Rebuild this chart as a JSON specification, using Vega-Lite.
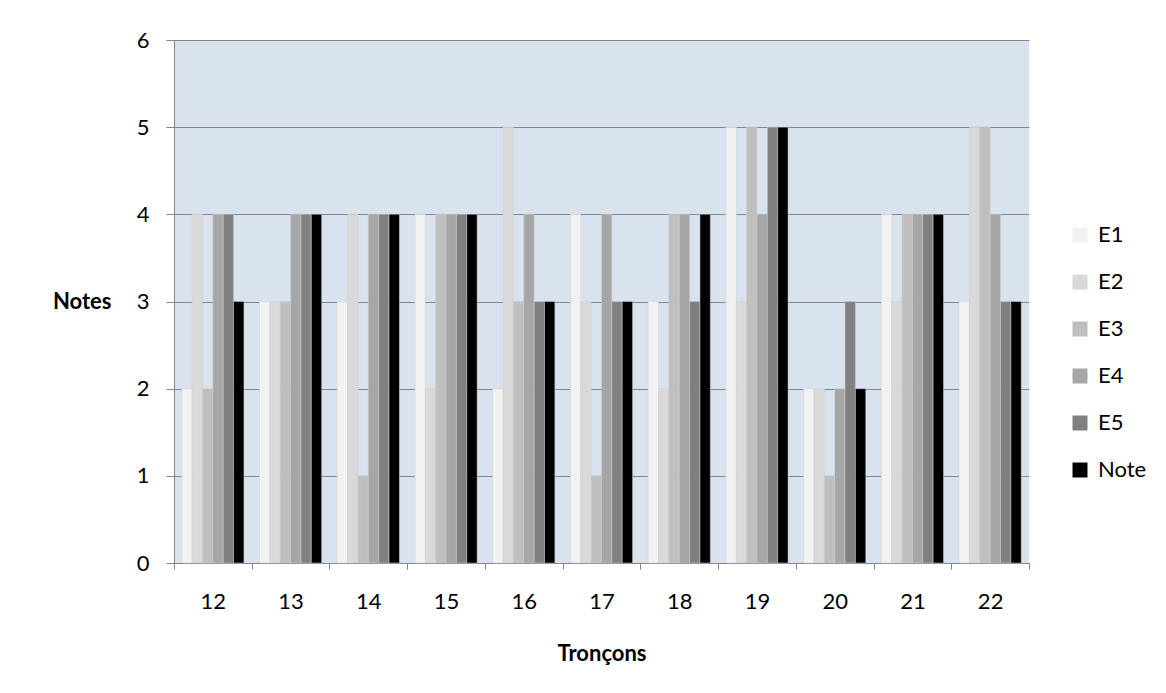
{
  "$schema": "https://vega.github.io/schema/vega-lite/v6.json",
  "autosize": {"type": "none"},
  "padding": {"left": 174, "top": 40, "right": 137, "bottom": 130},
  "width": 855,
  "height": 523,
  "background": "white",
  "config": {
    "font": "Lato",
    "view": {"fill": "#D8E3EF", "stroke": null},
    "axis": {"labelFont": "Lato", "titleFont": "Lato", "labelColor": "#000000", "titleColor": "#000000", "labelFontSize": 22, "titleFontSize": 22, "titleFontWeight": "bold", "domainColor": "#868686", "tickColor": "#868686", "gridColor": "#868686", "gridOpacity": 1}
  },
  "data": {"values": [
    {"troncon": "12", "serie": "E1", "valeur": 2}, {"troncon": "12", "serie": "E2", "valeur": 4}, {"troncon": "12", "serie": "E3", "valeur": 2}, {"troncon": "12", "serie": "E4", "valeur": 4}, {"troncon": "12", "serie": "E5", "valeur": 4}, {"troncon": "12", "serie": "Note", "valeur": 3},
    {"troncon": "13", "serie": "E1", "valeur": 3}, {"troncon": "13", "serie": "E2", "valeur": 3}, {"troncon": "13", "serie": "E3", "valeur": 3}, {"troncon": "13", "serie": "E4", "valeur": 4}, {"troncon": "13", "serie": "E5", "valeur": 4}, {"troncon": "13", "serie": "Note", "valeur": 4},
    {"troncon": "14", "serie": "E1", "valeur": 3}, {"troncon": "14", "serie": "E2", "valeur": 4}, {"troncon": "14", "serie": "E3", "valeur": 1}, {"troncon": "14", "serie": "E4", "valeur": 4}, {"troncon": "14", "serie": "E5", "valeur": 4}, {"troncon": "14", "serie": "Note", "valeur": 4},
    {"troncon": "15", "serie": "E1", "valeur": 4}, {"troncon": "15", "serie": "E2", "valeur": 2}, {"troncon": "15", "serie": "E3", "valeur": 4}, {"troncon": "15", "serie": "E4", "valeur": 4}, {"troncon": "15", "serie": "E5", "valeur": 4}, {"troncon": "15", "serie": "Note", "valeur": 4},
    {"troncon": "16", "serie": "E1", "valeur": 2}, {"troncon": "16", "serie": "E2", "valeur": 5}, {"troncon": "16", "serie": "E3", "valeur": 3}, {"troncon": "16", "serie": "E4", "valeur": 4}, {"troncon": "16", "serie": "E5", "valeur": 3}, {"troncon": "16", "serie": "Note", "valeur": 3},
    {"troncon": "17", "serie": "E1", "valeur": 4}, {"troncon": "17", "serie": "E2", "valeur": 3}, {"troncon": "17", "serie": "E3", "valeur": 1}, {"troncon": "17", "serie": "E4", "valeur": 4}, {"troncon": "17", "serie": "E5", "valeur": 3}, {"troncon": "17", "serie": "Note", "valeur": 3},
    {"troncon": "18", "serie": "E1", "valeur": 3}, {"troncon": "18", "serie": "E2", "valeur": 2}, {"troncon": "18", "serie": "E3", "valeur": 4}, {"troncon": "18", "serie": "E4", "valeur": 4}, {"troncon": "18", "serie": "E5", "valeur": 3}, {"troncon": "18", "serie": "Note", "valeur": 4},
    {"troncon": "19", "serie": "E1", "valeur": 5}, {"troncon": "19", "serie": "E2", "valeur": 3}, {"troncon": "19", "serie": "E3", "valeur": 5}, {"troncon": "19", "serie": "E4", "valeur": 4}, {"troncon": "19", "serie": "E5", "valeur": 5}, {"troncon": "19", "serie": "Note", "valeur": 5},
    {"troncon": "20", "serie": "E1", "valeur": 2}, {"troncon": "20", "serie": "E2", "valeur": 2}, {"troncon": "20", "serie": "E3", "valeur": 1}, {"troncon": "20", "serie": "E4", "valeur": 2}, {"troncon": "20", "serie": "E5", "valeur": 3}, {"troncon": "20", "serie": "Note", "valeur": 2},
    {"troncon": "21", "serie": "E1", "valeur": 4}, {"troncon": "21", "serie": "E2", "valeur": 3}, {"troncon": "21", "serie": "E3", "valeur": 4}, {"troncon": "21", "serie": "E4", "valeur": 4}, {"troncon": "21", "serie": "E5", "valeur": 4}, {"troncon": "21", "serie": "Note", "valeur": 4},
    {"troncon": "22", "serie": "E1", "valeur": 3}, {"troncon": "22", "serie": "E2", "valeur": 5}, {"troncon": "22", "serie": "E3", "valeur": 5}, {"troncon": "22", "serie": "E4", "valeur": 4}, {"troncon": "22", "serie": "E5", "valeur": 3}, {"troncon": "22", "serie": "Note", "valeur": 3}
  ]},
  "mark": {"type": "bar", "stroke": "#D0D0D0", "strokeWidth": 0.5},
  "encoding": {
    "x": {
      "field": "troncon", "type": "nominal", "title": "Tronçons",
      "scale": {"paddingInner": 0, "paddingOuter": 0},
      "axis": {"labelAngle": 0, "tickBand": "extent", "tickSize": 6, "labelPadding": 22, "titlePadding": 31, "grid": false, "domain": true}
    },
    "xOffset": {"field": "serie", "type": "nominal", "sort": ["E1", "E2", "E3", "E4", "E5", "Note"], "scale": {"paddingInner": 0, "paddingOuter": 0.75}},
    "y": {
      "field": "valeur", "type": "quantitative", "title": "Notes",
      "scale": {"domain": [0, 6], "nice": false},
      "axis": {"values": [0, 1, 2, 3, 4, 5, 6], "format": "d", "tickSize": 8, "labelPadding": 17, "titleAngle": 0, "titleAlign": "right", "titleBaseline": "middle", "titleX": -63, "titleY": 261}
    },
    "color": {
      "field": "serie", "type": "nominal", "title": null,
      "sort": ["E1", "E2", "E3", "E4", "E5", "Note"],
      "scale": {"domain": ["E1", "E2", "E3", "E4", "E5", "Note"], "range": ["#F2F2F2", "#D9D9D9", "#BFBFBF", "#A6A6A6", "#808080", "#000000"]},
      "legend": {"orient": "none", "legendX": 895, "legendY": 184, "symbolType": "square", "symbolSize": 225, "symbolStrokeWidth": 0, "labelFontSize": 22, "labelFont": "Lato", "labelColor": "#000000", "rowPadding": 25, "labelOffset": 7}
    }
  }
}
